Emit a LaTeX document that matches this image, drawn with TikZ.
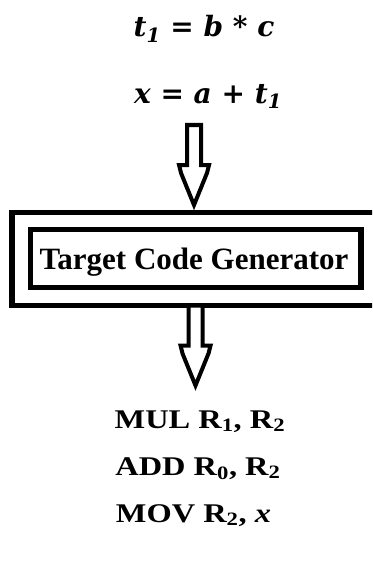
\documentclass[tikz,border=0pt]{standalone}
\usepackage{fontspec}
\setmainfont{Liberation Serif}
\newfontfamily\eqfont{DejaVu Serif}
\usetikzlibrary{calc}

\newcommand{\sub}[1]{\textsubscript{#1}}
\newcommand{\wide}[1]{\scalebox{1.2}[1]{#1}}

\begin{document}
\begin{tikzpicture}[x=1pt,y=-1pt,
  frame/.style={draw=black,line width=5.5pt},
  arrowline/.style={draw=black,fill=white,line width=4pt,line join=miter},
  eqtext/.style={font=\fontsize{28}{28}\selectfont\eqfont\bfseries,inner sep=0pt,anchor=base},
  codetext/.style={font=\fontsize{27}{27}\selectfont\bfseries,inner sep=0pt,anchor=base},
  boxtext/.style={font=\fontsize{31}{31}\selectfont\bfseries,inner sep=0pt,anchor=base},
  hollowarrow/.pic={
    \path[arrowline] (-7,0) -- (-7,40) -- (-15,40) -- (-13,48) -- (0,80)
      -- (13,48) -- (15,40) -- (7,40) -- (7,0) -- cycle;
  }]
\useasboundingbox (0,0) rectangle (372,567);
\clip (0,0) rectangle (372,567);

% input statements
\node[eqtext] (eq1) at (204,37) {\itshape t\sub{1}\upshape\ = \itshape b\upshape\ * \itshape c};
\node[eqtext] (eq2) at (208,103) {\itshape x\upshape\ = \itshape a\upshape\ + \itshape t\sub{1}};

% generator block: outer frame runs past the right edge
\node[boxtext] (gen) at (194,269) {Target Code Generator};
\draw[frame] (12,212.5) coordinate (outerNW) rectangle (395,305.5) coordinate (outerSE);
\draw[frame] (30.5,229.5) coordinate (innerNW) rectangle (361,287.5) coordinate (innerSE);

% block arrows into and out of the generator
\coordinate (in) at (194,125);
\coordinate (out) at (195.5,305.5);
\pic at (in) {hollowarrow};
\pic at (out) {hollowarrow};

% generated code
\node[codetext] (c1) at (200,428) {\wide{MUL R\sub{1}, R\sub{2}}};
\node[codetext] (c2) at (198,475) {\wide{ADD R\sub{0}, R\sub{2}}};
\node[codetext] (c3) at (193.5,522) {\wide{MOV R\sub{2}, \itshape x}};
\end{tikzpicture}
\end{document}
